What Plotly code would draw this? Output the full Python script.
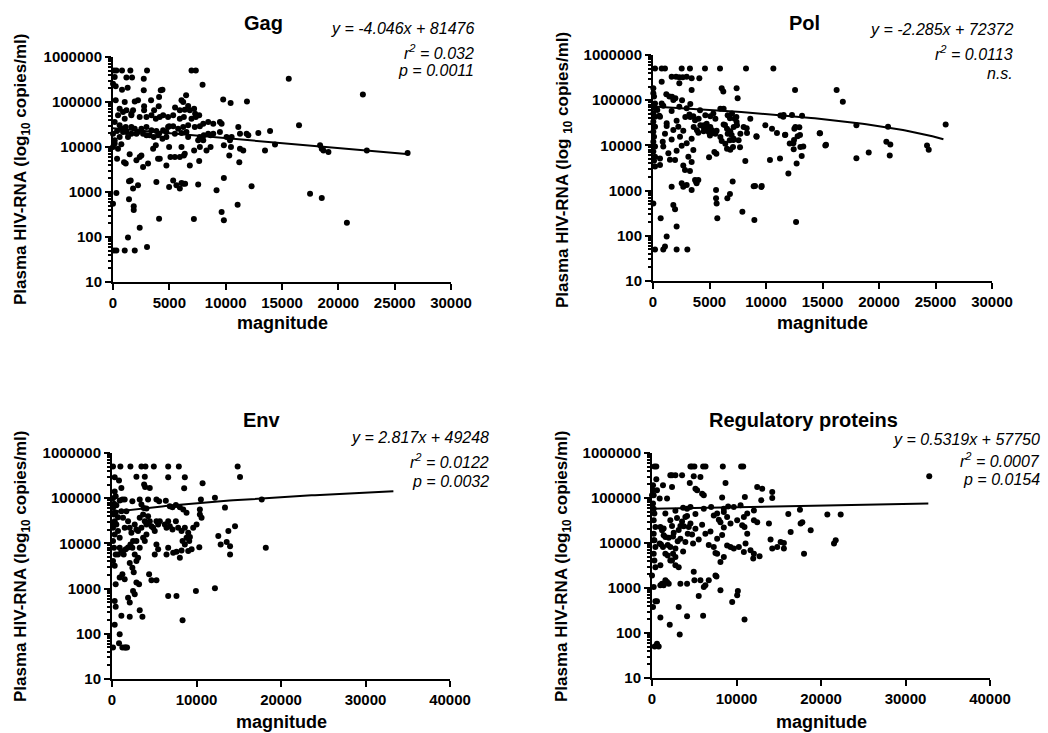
import numpy as np
import plotly.graph_objects as go

# ---------------- data (magnitude, plasma HIV-RNA copies/ml) ----------------
gag_x = [90, 300, 800, 1540, 3020, 6970, 7350, 150, 1190, 1690, 2730, 15600, 0, 240, 7950,
         800, 1300, 2730, 4240, 4390, 22180, 6490, 6080, 6230, 240, 1040, 1930, 2220, 3380, 9780, 10440, 11890,
         4090, 3650, 4060, 2760, 2760, 6670, 6820, 5510, 5930, 6370, 7200, 7290, 590, 1190, 1630,
         445, 890, 1040, 1630, 1780, 2370, 2970, 3410, 3800, 4150, 4450, 150, 590, 1130, 1630, 1930, 2520, 2970, 3410, 3850, 4090, 4450, 4740,
         0, 360, 740, 1190, 1630, 2080, 2670, 2970, 3620, 4000, 4390, 4740, 150, 590, 890, 1330, 2220, 3260, 0, 150,
         4890, 5340, 5930, 6290, 6970, 7350, 7650, 4980, 5340, 5780, 6230, 6670, 7260, 7710, 8010, 8450, 8900, 9490, 9640,
         9490, 8450, 8900, 8660, 8060, 7710, 6670, 6080, 5490, 4890, 6520, 7560, 8010, 10080, 10380, 10530, 11120, 11270, 11860, 12010, 12900, 13940, 13490, 14380, 18380, 18530, 18680, 19120, 22530, 26150, 16510,
         445, 740, 360, 980, 1130, 1480, 2080, 2370, 2520, 2670, 3110, 3560, 3800, 4000, 4150, 4740, 4980, 5100, 5490, 5930, 6080, 6370, 6290, 6820, 7200, 7650, 7710, 8300, 8660, 9840, 10320, 10470, 11210, 11270, 11560,
         1420, 1570, 1780, 2220, 3850, 4980, 5340, 5630, 5930, 6080, 6230, 6400, 7560, 9190, 9840, 12300, 17490, 18530, 300, 0,
         1420, 1840, 1840, 2370, 1330, 90, 300, 1040, 1930, 3020, 4090, 7180, 9640, 9840, 11060, 20760]
gag_y = [500000, 500000, 500000, 500000, 500000, 500000, 500000, 360000, 350000, 350000, 330000, 330000, 255000, 223000, 243000,
         188000, 208000, 182000, 182000, 188000, 146000, 141000, 109000, 100000, 109000, 100000, 103000, 109000, 109000, 113000, 95000, 103000,
         129000, 65300, 80000, 80000, 65300, 81500, 65300, 75000, 65300, 67600, 71000, 55000, 71000, 65300, 55000,
         50600, 60000, 42600, 50600, 65300, 46400, 46400, 50600, 42600, 46400, 50600, 36000, 30300, 27800, 27800, 25500, 25500, 27800, 23500, 22700, 19800, 23500, 21500,
         19800, 22700, 25500, 21500, 19800, 19800, 19800, 18200, 16700, 18200, 15300, 16700, 14100, 16700, 21500, 16700, 21500, 18200, 10000, 11900,
         46400, 50600, 42600, 46400, 42600, 46400, 50600, 28800, 28800, 25500, 27800, 30300, 27800, 28800, 33000, 36000, 33000, 36000, 33000,
         21500, 19800, 19800, 18200, 18200, 16700, 16700, 20500, 19800, 27800, 21500, 14100, 14100, 16700, 14100, 16700, 27800, 19800, 19800, 18200, 20500, 22700, 8400, 11300, 10900, 9200, 8400, 7700, 8400, 7400, 30300,
         9200, 11500, 5500, 4600, 4300, 6900, 5100, 6000, 6500, 3600, 4300, 9200, 10900, 5500, 5500, 3900, 10000, 6000, 6000, 6000, 10000, 7100, 6500, 3900, 8400, 4900, 10000, 8400, 10000, 10900, 6500, 10000, 4600, 9200, 8400,
         1730, 1800, 1190, 1410, 1670, 1290, 1800, 1410, 1190, 1590, 1530, 1530, 1460, 1090, 2050, 1340, 920, 740, 950, 550,
         690, 480, 400, 161, 97, 50, 50, 50, 50, 60, 255, 250, 360, 235, 520, 208]

pol_x = [180, 770, 1060, 2540, 3270, 4600, 5930, 8230, 10650,
         770, 1650, 2040, 2330, 2630, 2980, 3420, 4100, 2330, 3420, 6080, 6220, 7400, 7490, 12570, 16250,
         30, 30, 90, 180, 180, 30, 180, 30, 180, 30, 90, 30, 180, 30, 180, 90, 180, 30, 680, 180, 910, 1060, 1210, 2090, 3040, 2090,
         1800, 1950, 1650, 2540, 2980, 3720, 3810, 4010, 3860, 2680, 3420, 5580, 5580, 5630, 5690, 6580, 6810, 7050, 7910, 8970, 9030, 9620, 12660,
         10350, 11240, 11980, 12710, 13300, 13160, 14780, 15310, 12420, 12480, 13010, 12950, 11530, 11680,
         9170, 8290, 7700, 7400, 7110, 6960, 6810, 6370, 6080, 5630, 5340, 5040, 4750, 4510, 4600, 4160, 4010, 3720, 3570, 3420, 3220, 2980, 2680, 2330, 2090, 1800, 1650, 1450, 1210, 910, 770, 560, 380,
         620, 910, 1210, 1500, 1800, 2090, 2390, 2680, 2980, 3270, 3570, 1060, 1360, 1650, 1950, 2240, 2540, 2830, 3130, 3420, 620, 860, 620,
         4190, 4630, 4930, 5220, 5520, 3890, 3600, 4480, 4780, 5070, 5370, 6250, 6550, 6840, 7140, 7430, 6790, 6400, 6550, 7080, 7730, 7580, 7140, 8020, 4480, 4960, 5430, 5610, 5070, 5960, 6840, 6610,
         9940, 10530, 10970, 11710, 12510, 12600, 12800, 14750, 15250, 18000, 20800, 25900, 20650, 21000, 24250, 24400, 20950, 19090, 18000, 13040, 12100, 12450, 8320, 9150, 8170, 11270, 11560, 12300, 13190, 8610, 16800, 9590, 8910,
         5960, 6250, 6610, 6990, 7230, 7380, 2860, 3300, 4040, 4630, 5070, 5520, 2570, 3300, 1980, 1680, 1180]
pol_y = [500000, 500000, 500000, 500000, 500000, 500000, 500000, 500000, 500000,
         257000, 332000, 332000, 320000, 320000, 332000, 305000, 305000, 236000, 168000, 183000, 155000, 183000, 110000, 168000, 168000,
         183000, 142000, 120000, 85000, 66000, 51000, 43000, 33500, 26000, 20100, 15600, 12100, 9400, 7300, 5600, 4600, 3400, 520, 243, 50, 50, 58, 96, 50, 50, 160,
         480, 385, 1220, 1450, 1330, 1720, 1580, 1720, 1450, 1220, 1030, 1030, 675, 520, 243, 675, 840, 1580, 342, 224, 1260, 1260, 202,
         4750, 5100, 2400, 4000, 9400, 5800, 18500, 10400, 11100, 13200, 17000, 25100, 43000, 17000,
         15600, 24000, 9100, 33000, 13200, 17000, 40000, 28300, 12500, 21000, 51000, 16500, 30000, 28000, 22000, 60000, 19000, 36000, 44000, 14000, 48000, 66000, 21000, 72000, 35000, 101000, 58000, 120000, 27000, 75000, 85000, 45000, 61000,
         43000, 9500, 30800, 4800, 21900, 7600, 15600, 3600, 11100, 2700, 7900, 18000, 6700, 13500, 4750, 26000, 9800, 2850, 5600, 4300, 5100, 12000, 3700,
         27800, 23500, 19800, 21500, 18200, 21500, 25500, 25500, 26500, 19800, 18900, 29000, 23500, 20500, 25500, 27800, 13000, 10900, 8400, 9200, 18200, 13000, 14100, 25500, 20500, 5500, 7100, 6500, 25500, 15300, 8000, 18200,
         27800, 23500, 18900, 17300, 23500, 25500, 16000, 18500, 10000, 27800, 26000, 29000, 12000, 10500, 10000, 8000, 6000, 7000, 5200, 9200, 11000, 8200, 18800, 16000, 4500, 46000, 47000, 47000, 45000, 39000, 92000, 1200, 1250,
         65000, 65000, 46400, 50600, 39000, 42600, 42600, 42600, 39000, 46400, 44000, 39000, 100000, 82000, 110000, 119000, 135000]

env_x = [120, 990, 2180, 3480, 3960, 4950, 6650, 7910, 14870,
         320, 830, 1110, 2890, 3880, 3800, 3920, 4470, 6650, 8620, 8540, 10720, 15150,
         320, 435, 910, 1230, 1500, 2410, 3280, 3480, 3760, 4075, 4270, 5260, 5580, 6370, 6840, 7160, 7560, 8030, 8430, 8820, 10400, 10520, 12180, 13370, 17720, 18200,
         120, 240, 320, 120, 320, 120, 240, 435, 120, 320, 515, 710, 910, 1110, 1305, 1500, 1700, 1900, 2100, 2295, 2490, 2690, 2890, 3085, 3280, 3480, 3680, 3880, 4075, 4270, 4470, 4670, 4865, 5060, 5260, 5460, 5660,
         910, 1110, 1385, 1620, 1900, 2180, 2410, 2690, 2890, 3085, 2100, 2410, 2570, 1230, 1500, 910, 435, 710, 5260, 5460, 5060, 6450, 6650, 7240, 7630, 8030, 8230, 8350, 8620, 8820, 9020, 9140, 9420, 9220, 2890, 3280, 3680, 3880, 4075,
         6250, 6450, 6650, 6840, 7160, 7560, 7830, 8230, 8620, 9020, 9610, 10010, 10400, 10600, 12580, 12860, 13570, 13770, 13970, 13970, 14560, 10330, 4390, 4670, 5260,
         1900, 2690, 2490, 2890, 3200, 320, 320, 435, 910, 830, 1230, 1500, 1780, 1620, 1110, 2100, 2100, 3280, 3600, 6650, 7630, 9930, 12180, 8350, 120,
         120, 240, 435, 710, 120, 515]
env_y = [500000, 500000, 500000, 500000, 500000, 500000, 500000, 500000, 500000,
         290000, 245000, 169000, 300000, 300000, 200000, 177000, 169000, 290000, 290000, 165000, 214000, 295000,
         140000, 110000, 89000, 93000, 93000, 86000, 93000, 72500, 61000, 59000, 93000, 93000, 86000, 88000, 66600, 63000, 71000, 63000, 56000, 47400, 56000, 93000, 102000, 62000, 93000, 8000,
         61000, 43600, 31100, 22200, 15800, 11300, 8000, 5700, 4100, 3200, 26200, 18700, 13300, 51600, 36800, 22200, 51600, 31100, 22200, 17200, 11300, 26200, 20400, 18700, 36800, 22200, 43600, 31100, 26200, 40000, 31100, 24100, 22200, 18700, 31100, 26200, 31100,
         8000, 6800, 5700, 7400, 8100, 9500, 8000, 5700, 4100, 4800, 3700, 2900, 2300, 2070, 1600, 1750, 1250, 5700, 9500, 7400, 5700, 5700, 8000, 6200, 6500, 4800, 7000, 11300, 9500, 13300, 6800, 11300, 7400, 13800, 11300, 8000, 13300, 11300, 15800,
         26200, 22200, 31100, 24100, 20400, 31100, 22200, 18700, 22200, 17200, 22200, 26200, 43600, 36800, 14500, 9500, 10800, 18700, 8700, 5700, 24100, 8200, 2070, 1530, 1530,
         630, 750, 890, 1360, 1250, 535, 158, 395, 98, 62, 50, 50, 50, 50, 250, 490, 237, 333, 237, 690, 690, 890, 1020, 200, 50,
         100000, 75000, 48000, 38000, 28000, 70000]

reg_x = [280, 510, 4550, 4740, 5020, 6050, 6330, 8380, 10550, 10790, 32810,
         510, 2170, 2370, 2770, 3560, 4940, 5730, 1300, 2370, 4470, 5140, 5340, 5930, 6130, 8700, 12450, 13040, 14230, 14230, 12930, 10990, 1780, 910, 590, 120, 120, 0,
         3680, 4150, 4550, 6130, 7000, 8500, 9010, 8300, 17510, 20750, 22330, 16130,
         200, 120, 200, 280, 200, 400, 200, 280, 400, 200, 280, 400, 0, 200, 400, 120, 590, 990, 590, 790, 320, 200,
         990, 1190, 1380, 1580, 910, 1070, 1300, 1580, 1860, 2170, 2370, 2770, 990, 1190, 1380, 1580, 1780, 1980, 990,
         1380, 1580, 1860, 2170, 2490, 2770, 3040, 3360, 3680, 3950, 4230, 4550, 4860, 5140,
         1980, 2370, 2770, 3160, 3560, 3950, 4350, 4740, 5140, 5530, 5930, 6320, 6720,
         2570, 2960, 3360, 3760, 4150,
         2170, 2490, 2770, 3160, 3360, 4150, 4940, 5020, 5730, 5530, 6130, 6320, 6720, 7510, 7630, 8100, 9490, 10080, 10160, 10950, 3160, 4150, 3280, 6050, 2100,
         6920, 7310, 7710, 8100, 8500, 8890, 7510, 7910, 8300, 7310, 7710, 8100, 8500, 9290, 9680, 10280, 10870, 11070, 11270, 11660, 11980, 12060, 12730, 12450, 12060, 14030, 14230, 14820, 15220, 15610, 16410, 17590, 17790, 18780, 21540, 21740, 17990, 15610, 13840, 12060, 11270, 10870, 10080, 9290, 8890, 9680, 10480, 8500, 7710, 10670, 10950]
reg_y = [500000, 500000, 500000, 500000, 500000, 500000, 500000, 500000, 500000, 500000, 303000,
         260000, 319000, 319000, 319000, 319000, 303000, 293000, 191000, 175000, 215000, 161000, 148000, 125000, 115000, 215000, 175000, 161000, 136000, 100000, 89000, 105000, 97000, 97000, 148000, 191000, 148000, 115000,
         61000, 58000, 63000, 58000, 63000, 58000, 65000, 102000, 55000, 43000, 43000, 44000,
         115000, 75000, 58000, 45000, 32000, 22700, 16100, 11500, 8100, 5800, 4100, 2900, 1900, 1050, 510, 380, 510, 220, 58, 50, 50, 11500,
         22700, 19100, 14800, 13600, 9700, 9300, 8100, 5800, 5300, 4100, 4100, 3200, 3200, 1250, 1150, 1480, 1360, 1250, 1150,
         21000, 45000, 9000, 32000, 14000, 52000, 11000, 24000, 6500, 38000, 16000, 27000, 9700, 44000,
         13000, 24000, 7500, 19500, 30000, 10500, 22700, 15500, 20800, 12000, 25500, 16100, 9000,
         17000, 36000, 12500, 23500, 40000,
         8100, 5800, 4900, 2900, 1250, 1250, 2300, 1480, 1480, 660, 1050, 1150, 1480, 1900, 1800, 890, 490, 690, 860, 200, 380, 235, 93, 243, 153,
         18000, 41000, 12500, 29000, 22000, 8800, 6000, 33000, 15000, 8100, 5800, 3800, 4900, 8100, 7500, 8100, 6300, 9700, 16100, 6900, 4500, 5800, 5100, 29000, 32000, 11900, 7500, 8100, 10500, 7500, 17500, 27000, 29000, 19100, 9700, 11500, 5800, 10000, 27000, 53000, 45000, 38000, 32000, 27000, 38000, 63000, 69000, 49000, 45000, 24700, 22700]

# regression lines (Gag: drawn line endpoints; others: printed equations)
gag_fit_x = [0, 26300]
gag_fit_y = [26000, 6900]
pol_fit = dict(slope=-2.285, intercept=72372, xmax=25700)
env_fit = dict(slope=2.817, intercept=49248, xmax=33300)
reg_fit = dict(slope=0.5319, intercept=57750, xmax=32700)

titles = ["Gag", "Pol", "Env", "Regulatory proteins"]
stats = [["<i>y = -4.046x + 81476</i>", "<i>r<sup>2</sup> = 0.032</i>", "<i>p = 0.0011</i>"],
         ["<i>y = -2.285x + 72372</i>", "<i>r<sup>2</sup> = 0.0113</i>", "<i>n.s.</i>"],
         ["<i>y = 2.817x + 49248</i>", "<i>r<sup>2</sup> = 0.0122</i>", "<i>p = 0.0032</i>"],
         ["<i>y = 0.5319x + 57750</i>", "<i>r<sup>2</sup> = 0.0007</i>", "<i>p = 0.0154</i>"]]
y_ticks = [10, 100, 1000, 10000, 100000, 1000000]
y_minor = [k * 10 ** n for n in range(1, 6) for k in range(2, 10)]
x_ticks_30 = [0, 5000, 10000, 15000, 20000, 25000, 30000]
x_ticks_40 = [0, 10000, 20000, 30000, 40000]

# ---------------- layout helpers ----------------
W, H = 1048, 733
def fx(p): return p / W
def fy(p): return 1 - p / H

FONT = "Liberation Sans, Arial, sans-serif"

def line_from_eq(f):
    xs = np.linspace(0, f["xmax"], 80)
    return xs, f["slope"] * xs + f["intercept"]

fits = [(gag_fit_x, gag_fit_y), line_from_eq(pol_fit), line_from_eq(env_fit), line_from_eq(reg_fit)]
data = [(gag_x, gag_y), (pol_x, pol_y), (env_x, env_y), (reg_x, reg_y)]

panels = [
    dict(xd=(113, 451), yd=(57, 282), xmax=30000, xt=x_ticks_30, title=(263, 23), stat=(476, [29, 52, 71]), ytl=(22, 170), xtl=(282, 323), ylab="Plasma HIV-RNA (log<sub>10</sub> copies/ml)"),
    dict(xd=(653, 992), yd=(55, 281), xmax=30000, xt=x_ticks_30, title=(804, 23), stat=(1015, [30, 53, 73]), ytl=(564, 170), xtl=(822, 323), ylab="Plasma HIV-RNA (log <sub>10</sub> copies/ml)"),
    dict(xd=(112, 450), yd=(453, 679), xmax=40000, xt=x_ticks_40, title=(262, 420), stat=(491, [438, 461, 481]), ytl=(22, 567), xtl=(281, 722), ylab="Plasma HIV-RNA (log<sub>10</sub> copies/ml)"),
    dict(xd=(652, 990), yd=(453, 678), xmax=40000, xt=x_ticks_40, title=(803, 420), stat=(1042, [439, 460, 479]), ytl=(563, 567), xtl=(821, 722), ylab="Plasma HIV-RNA (log<sub>10</sub> copies/ml)"),
]

fig = go.Figure()
annotations = []
for i, p in enumerate(panels):
    sfx = "" if i == 0 else str(i + 1)
    xa, ya = "x" + sfx, "y" + sfx
    dx, dy = data[i]
    fig.add_trace(go.Scatter(x=dx, y=dy, mode="markers", xaxis=xa, yaxis=ya,
                             marker=dict(color="black", size=6, line=dict(width=0)),
                             cliponaxis=False, hoverinfo="skip"))
    fxs, fys = fits[i]
    fig.add_trace(go.Scatter(x=list(fxs), y=list(fys), mode="lines", xaxis=xa, yaxis=ya,
                             line=dict(color="black", width=2), cliponaxis=False, hoverinfo="skip"))
    tickfont = dict(family=FONT, size=15, color="black", weight="bold")
    fig.layout["xaxis" + sfx] = dict(
        domain=[fx(p["xd"][0]), fx(p["xd"][1])], anchor=ya, range=[0, p["xmax"]],
        showline=True, linecolor="black", linewidth=2, ticks="outside", ticklen=6, tickwidth=2,
        tickcolor="black", tickmode="array", tickvals=p["xt"], ticktext=[str(v) for v in p["xt"]],
        tickfont=tickfont, showgrid=False, zeroline=False, automargin=False, fixedrange=True)
    fig.layout["yaxis" + sfx] = dict(
        domain=[fy(p["yd"][1]), fy(p["yd"][0])], anchor=xa, type="log", range=[1, 6],
        showline=True, linecolor="black", linewidth=2, ticks="outside", ticklen=6, tickwidth=2,
        tickcolor="black", tickmode="array", tickvals=y_ticks, ticktext=[str(v) for v in y_ticks],
        tickfont=tickfont, showgrid=False, zeroline=False, automargin=False, fixedrange=True,
        minor=dict(tickmode="array", tickvals=y_minor, ticks="outside", ticklen=3, tickwidth=1.5,
                   tickcolor="black", showgrid=False))
    annotations.append(dict(text="<b>%s</b>" % titles[i], x=fx(p["title"][0]), y=fy(p["title"][1]),
                            xref="paper", yref="paper", showarrow=False, xanchor="center", yanchor="middle",
                            font=dict(family=FONT, size=20, color="black")))
    for k, s in enumerate(stats[i]):
        annotations.append(dict(text=s, x=fx(p["stat"][0]), y=fy(p["stat"][1][k]), xref="paper", yref="paper",
                                showarrow=False, xanchor="right", yanchor="middle", align="right",
                                font=dict(family=FONT, size=16, color="black")))
    annotations.append(dict(text="<b>%s</b>" % p["ylab"], x=fx(p["ytl"][0]), y=fy(p["ytl"][1]), xref="paper",
                            yref="paper", showarrow=False, textangle=-90, xanchor="center", yanchor="middle",
                            font=dict(family=FONT, size=17, color="black")))
    annotations.append(dict(text="<b>magnitude</b>", x=fx(p["xtl"][0]), y=fy(p["xtl"][1]), xref="paper",
                            yref="paper", showarrow=False, xanchor="center", yanchor="middle",
                            font=dict(family=FONT, size=18, color="black")))

fig.update_layout(width=W, height=H, autosize=False, margin=dict(l=0, r=0, t=0, b=0),
                  paper_bgcolor="white", plot_bgcolor="white", showlegend=False,
                  annotations=annotations, font=dict(family=FONT, color="black"))
fig.write_html("out.html")
